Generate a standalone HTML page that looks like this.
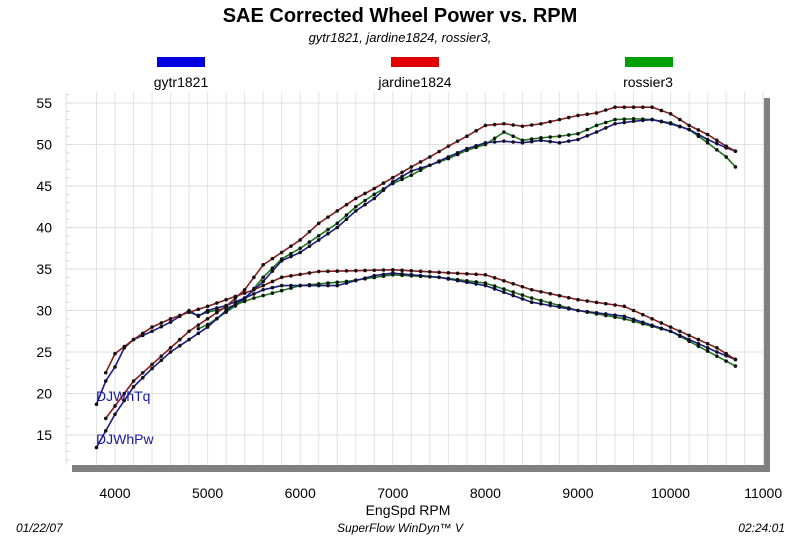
<!DOCTYPE html>
<html><head><meta charset="utf-8"><style>
body{margin:0;background:#fff;width:800px;height:540px;overflow:hidden;font-family:"Liberation Sans",Arial,sans-serif}
</style></head><body>
<svg id="s" width="800" height="540" xmlns="http://www.w3.org/2000/svg" font-family="Liberation Sans, Arial, sans-serif">
<rect width="800" height="540" fill="#fff"/>
<text x="400" y="22" text-anchor="middle" font-size="20" font-weight="bold">SAE Corrected Wheel Power vs. RPM</text>
<text x="400" y="42" text-anchor="middle" font-size="13" font-style="italic">gytr1821, jardine1824, rossier3,</text>
<rect x="157" y="57" width="48" height="10" fill="#0000e0"/>
<rect x="391" y="57" width="48" height="10" fill="#e00000"/>
<rect x="625" y="57" width="48" height="10" fill="#00a000"/>
<text x="181" y="87" text-anchor="middle" font-size="14">gytr1821</text>
<text x="415" y="87" text-anchor="middle" font-size="14">jardine1824</text>
<text x="648" y="87" text-anchor="middle" font-size="14">rossier3</text>
<g id="grid"></g>
<rect x="72" y="465" width="698" height="7" fill="#808080"/>
<rect x="764" y="98" width="6" height="374" fill="#808080"/>
<g id="ticks" font-size="14"></g>
<text x="408" y="515" text-anchor="middle" font-size="14">EngSpd  RPM</text>
<text x="16" y="532" font-size="12" font-style="italic">01/22/07</text>
<text x="400" y="532" text-anchor="middle" font-size="12" font-style="italic">SuperFlow WinDyn™ V</text>
<text x="785" y="532" text-anchor="end" font-size="12" font-style="italic">02:24:01</text>
<g id="data"></g>
<text x="96" y="401" font-size="14" fill="#1a1aa0">DJWhTq</text>
<text x="96" y="444" font-size="14" fill="#1a1aa0">DJWhPw</text>
</svg>
<script>
var NS="http://www.w3.org/2000/svg";
function X(r){return 115+(r-4000)*0.0926;}
function Y(v){return 103+(55-v)*8.3;}
function el(t,a,p){var e=document.createElementNS(NS,t);for(var k in a)e.setAttribute(k,a[k]);p.appendChild(e);return e;}
var g=document.getElementById('grid');
for(var r=3800;r<=11000;r+=200){el('line',{x1:X(r),x2:X(r),y1:92,y2:465,stroke:'#e2e2e2','stroke-width':1},g);}
for(var v=15;v<=55;v+=5){el('line',{x1:66,x2:764,y1:Y(v),y2:Y(v),stroke:'#e2e2e2','stroke-width':1},g);}
for(var v=12;v<=56;v+=1){el('line',{x1:66,x2:(v%5==0?72:70),y1:Y(v),y2:Y(v),stroke:'#d8d8d8','stroke-width':1},g);}
el('line',{x1:66,x2:66,y1:92,y2:465,stroke:'#e2e2e2'},g);
var t=document.getElementById('ticks');
for(var v=15;v<=55;v+=5){var e=el('text',{x:52,y:Y(v)+5,'text-anchor':'end'},t);e.textContent=v;}
for(var r=4000;r<=11000;r+=1000){var e=el('text',{x:X(r),y:498,'text-anchor':'middle'},t);e.textContent=r;
 el('line',{x1:X(r),x2:X(r),y1:465,y2:472,stroke:'#ddd'},g);}
function interp(pts){var o=[];for(var r=pts[0][0];r<=pts[pts.length-1][0]+1;r+=100){for(var i=0;i<pts.length-1;i++){if(r>=pts[i][0]&&r<=pts[i+1][0]){var f=(r-pts[i][0])/(pts[i+1][0]-pts[i][0]);o.push([r,pts[i][1]+f*(pts[i+1][1]-pts[i][1])]);break;}}}return o;}
var S=[
['#1a7a1a',[[4900,27.8],[5000,28.3],[5200,29.8],[5400,31.3],[5600,34],[5800,36.2],[6000,37.5],[6200,39],[6400,40.5],[6600,42.5],[6800,44],[7000,45.3],[7200,46.3],[7400,47.5],[7600,48.3],[7800,49.3],[8000,50],[8200,51.5],[8400,50.5],[8600,50.8],[8800,51],[9000,51.3],[9200,52.3],[9400,53],[9600,53.1],[9800,53],[10000,52.6],[10200,51.8],[10400,50.2],[10600,48.5],[10700,47.3]]],
['#1a7a1a',[[4800,29.8],[4900,29.4],[5000,29.8],[5200,30.3],[5500,31.5],[6000,33],[6500,33.5],[7000,34.3],[7500,34],[8000,33.3],[8500,31.5],[9000,30],[9500,29],[10000,27.5],[10500,24.5],[10700,23.3]]],
['#1a1a8c',[[3800,13.5],[3900,15.5],[4000,17.5],[4200,20.8],[4400,23],[4600,25],[4800,26.5],[5000,28],[5200,30],[5400,31.5],[5600,33.5],[5800,36],[6000,37],[6200,38.5],[6400,40],[6600,42],[6800,43.5],[7000,45.5],[7200,46.8],[7400,47.5],[7600,48.5],[7800,49.5],[8000,50.2],[8200,50.4],[8400,50.2],[8600,50.5],[8800,50.2],[9000,50.6],[9200,51.5],[9400,52.5],[9600,52.8],[9800,53],[10000,52.5],[10200,51.8],[10400,50.6],[10600,49.6],[10700,49.2]]],
['#1a1a8c',[[3800,18.7],[3900,21.5],[4000,23.2],[4100,25.5],[4200,26.5],[4400,27.5],[4600,28.6],[4800,30],[4900,29.3],[5000,30],[5200,30.6],[5400,31.5],[5600,32.5],[5800,33],[6000,33],[6400,33],[6800,34.2],[7000,34.5],[7500,34],[8000,33],[8500,31],[9000,30],[9500,29.3],[10000,27.5],[10500,25],[10700,24.1]]],
['#8b1a1a',[[3900,17],[4000,18.5],[4200,21.5],[4400,23.5],[4600,25.5],[4800,27.5],[5000,29],[5200,30.5],[5400,32.5],[5600,35.5],[5800,37],[6000,38.5],[6200,40.5],[6400,42],[6600,43.5],[6800,44.7],[7000,46],[7200,47.3],[7400,48.5],[7600,49.8],[7800,51],[8000,52.3],[8200,52.5],[8400,52.2],[8600,52.5],[8800,53],[9000,53.5],[9200,53.8],[9400,54.5],[9600,54.5],[9800,54.5],[10000,53.7],[10200,52.3],[10400,51.2],[10600,49.8],[10700,49.2]]],
['#8b1a1a',[[3900,22.5],[4000,24.8],[4200,26.5],[4400,28],[4600,29],[4800,29.8],[5000,30.5],[5200,31.3],[5500,32.5],[5800,34],[6200,34.7],[7000,34.9],[7500,34.6],[8000,34.3],[8500,32.5],[9000,31.3],[9500,30.5],[10000,28],[10500,25.5],[10700,24.1]]]
];
var d=document.getElementById('data');
S.forEach(function(s){var p=interp(s[1]);el('polyline',{points:p.map(function(q){return X(q[0]).toFixed(1)+','+Y(q[1]).toFixed(1)}).join(' '),fill:'none',stroke:s[0],'stroke-width':1.6},d);
p.forEach(function(q){el('circle',{cx:X(q[0]),cy:Y(q[1]),r:1.8,fill:'#111'},d);});});
</script>
</body></html>
